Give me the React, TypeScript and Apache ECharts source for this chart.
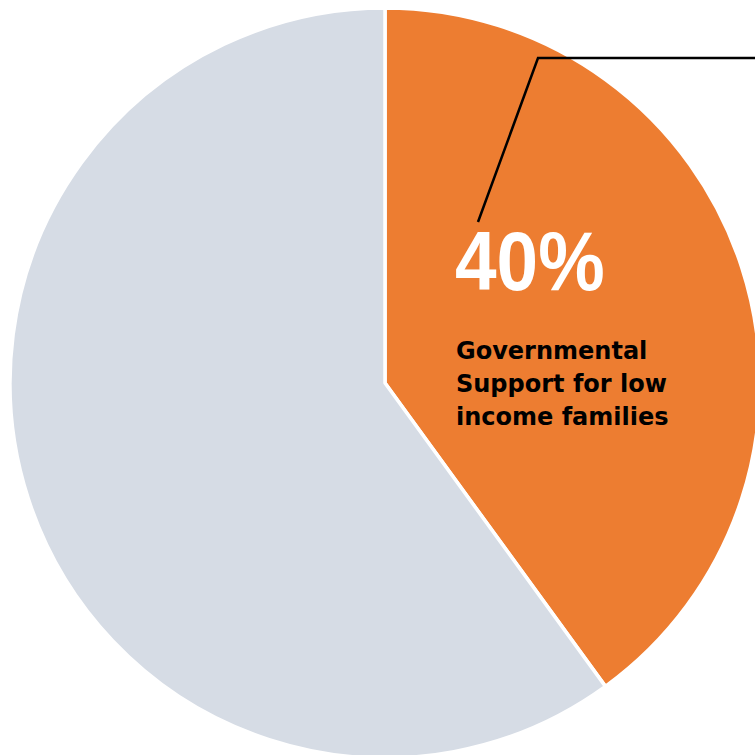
import React, { useEffect, useRef } from "react";
import * as echarts from "echarts";

const categories = ["Governmental Support for low income families", "Other"];
const values = [40, 60];
const colors = ["#ED7D31", "#D6DCE5"];
const labelLines = ["Governmental", "Support for low", "income families"];

export default function App() {
  const ref = useRef<HTMLDivElement>(null);
  useEffect(() => {
    if (!ref.current) return;
    const chart = echarts.init(ref.current, undefined, { renderer: "svg" });
    const total = values.reduce((a, b) => a + b, 0);
    const pct = Math.round((values[0] / total) * 100) + "%";
    chart.setOption({
      animation: false,
      series: [
        {
          type: "pie",
          center: [385, 383],
          radius: 375,
          startAngle: 90,
          clockwise: true,
          silent: true,
          label: { show: false },
          labelLine: { show: false },
          itemStyle: { borderColor: "#ffffff", borderWidth: 3.5 },
          data: categories.map((c, i) => ({
            name: c,
            value: values[i],
            itemStyle: { color: colors[i] },
          })),
        },
      ],
      graphic: [
        {
          type: "polyline",
          shape: { points: [[478, 222], [538, 58], [760, 58]] },
          style: { stroke: "#000000", lineWidth: 2.5, fill: null },
          z: 10,
        },
        {
          type: "text",
          x: 455,
          y: 303,
          scaleX: 0.89,
          style: {
            text: pct,
            fill: "#ffffff",
            font: "bold 84px 'Liberation Sans', Arial, sans-serif",
            textVerticalAlign: "bottom",
          },
          z: 10,
        },
        {
          type: "text",
          x: 456,
          y: 334,
          style: {
            text: labelLines.join("\n"),
            fill: "#000000",
            font: "bold 24px 'DejaVu Sans', sans-serif",
            lineHeight: 33,
          },
          z: 10,
        },
      ],
    });
    return () => chart.dispose();
  }, []);
  return (
    <div
      ref={ref}
      style={{ position: "absolute", left: 0, top: 0, width: 755, height: 755 }}
    />
  );
}
